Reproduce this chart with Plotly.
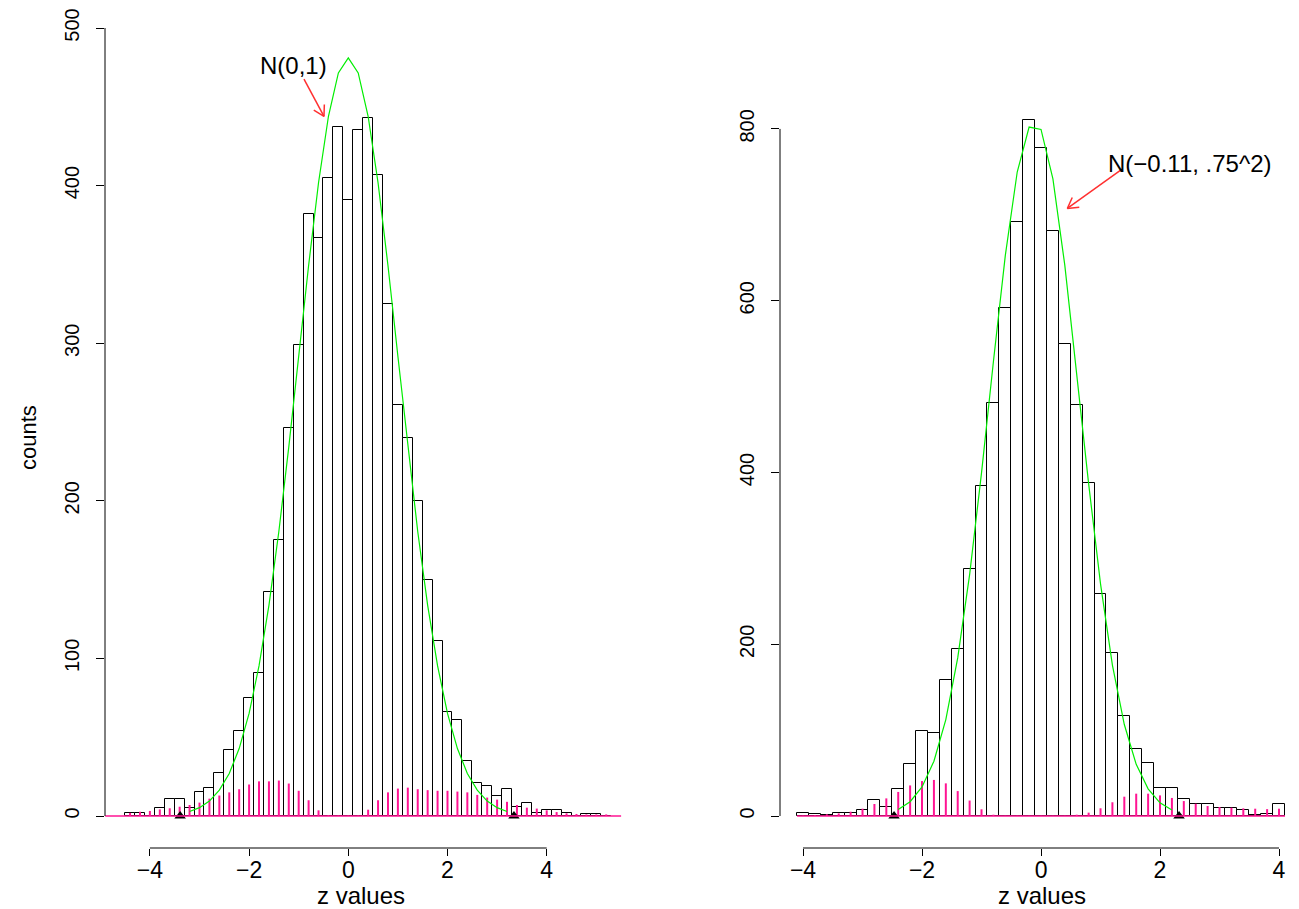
import math
import plotly.graph_objects as go

W, H = 1299, 909
FONT = "Liberation Sans, Arial, Helvetica, sans-serif"

# ---------------- data ----------------
bin_width = 0.2

left_centers = [-4.4, -4.2, -4.0, -3.8, -3.6, -3.4, -3.2, -3.0, -2.8, -2.6,
                -2.4, -2.2, -2.0, -1.8, -1.6, -1.4, -1.2, -1.0, -0.8, -0.6,
                -0.4, -0.2, 0.0, 0.2, 0.4, 0.6, 0.8, 1.0, 1.2, 1.4,
                1.6, 1.8, 2.0, 2.2, 2.4, 2.6, 2.8, 3.0, 3.2, 3.4,
                3.6, 3.8, 4.0, 4.2, 4.4, 4.6, 4.8, 5.0, 5.2]
left_counts = [2, 2, 0, 5, 11, 11, 5, 15, 18, 27,
               42, 54, 75, 91, 142, 175, 246, 299, 382, 367,
               405, 437, 391, 435, 443, 407, 325, 261, 240, 200,
               150, 111, 66, 61, 35, 21, 19, 13, 17, 6,
               8, 2, 4, 4, 2, 0, 1, 1, 0]
left_spikes = [2, 2.7, 3.2, 4.2, 4.9, 5.9, 7, 8.5, 11, 13,
               15, 17, 20, 22, 22, 22.5, 20.6, 16, 10, 3.6,
               0.5, 0.3, 0.3, 0.3, 4, 10, 15, 17.4, 18, 17,
               16.4, 16, 16, 15.5, 15, 13.4, 11.7, 10.4, 9, 7,
               5.3, 4.7, 3.6, 2.5, 1.7, 1.3, 1, 1, 1]
left_curve_x = [-3.2, -3.0, -2.8, -2.6, -2.4, -2.2, -2.0, -1.8, -1.6, -1.4, -1.2,
                -1.0, -0.8, -0.6, -0.4, -0.2, 0.0, 0.2, 0.4, 0.6, 0.8, 1.0,
                1.2, 1.4, 1.6, 1.8, 2.0, 2.2, 2.4, 2.6, 2.8, 3.0, 3.2]
left_curve_y = [2.9, 5.3, 9.5, 16.4, 27.0, 42.8, 65.1, 95.2, 133.7, 180.5, 234.1,
                291.7, 349.3, 401.8, 444.0, 471.5, 481.0, 471.5, 444.0, 401.8, 349.3, 291.7,
                234.1, 180.5, 133.7, 95.2, 65.1, 42.8, 27.0, 16.4, 9.5, 5.3, 2.9]
left_marks = [-3.39, 3.34]
left_baseline = [-4.9, 5.5]

right_centers = [-4.0, -3.8, -3.6, -3.4, -3.2, -3.0, -2.8, -2.6, -2.4, -2.2,
                 -2.0, -1.8, -1.6, -1.4, -1.2, -1.0, -0.8, -0.6, -0.4, -0.2,
                 0.0, 0.2, 0.4, 0.6, 0.8, 1.0, 1.2, 1.4, 1.6, 1.8,
                 2.0, 2.2, 2.4, 2.6, 2.8, 3.0, 3.2, 3.4, 3.6, 3.8, 4.0]
right_counts = [3, 2, 1, 4, 4, 7, 19, 10, 32, 61,
                99, 97, 158, 194, 288, 384, 481, 591, 692, 810,
                778, 681, 550, 479, 388, 259, 190, 117, 78, 62,
                33, 33, 20, 14, 14, 9, 9, 7, 1, 2, 14]
right_spikes = [0.4, 0.8, 2, 3, 5, 8.5, 14, 20.5, 28, 35.6,
                40.7, 42, 38, 29, 18, 7.8, 1.5, 0.3, 0.3, 0.3,
                0.3, 0.3, 0.3, 1.5, 3.9, 9, 16, 22.5, 26, 26,
                24, 21, 17.4, 14.3, 11.6, 10.5, 9.7, 8.9, 8.5, 8, 8.5]
right_curve_x = [-2.4, -2.2, -2.0, -1.8, -1.6, -1.4, -1.2, -1.0, -0.8, -0.6, -0.4, -0.2,
                 0.0, 0.2, 0.4, 0.6, 0.8, 1.0, 1.2, 1.4, 1.6, 1.8, 2.0, 2.2]
right_curve_y = [7.6, 16.6, 33.8, 63.8, 112.3, 184.1, 281.0, 399.6, 529.2, 652.7, 749.8, 802.2,
                 799.4, 741.8, 641.2, 516.2, 387.0, 270.3, 175.7, 106.5, 60.1, 31.6, 15.4, 7.0]
right_marks = [-2.47, 2.32]
right_baseline = [-4.1, 4.1]

x_ticks = [-4, -2, 0, 2, 4]
left_y_ticks = [0, 100, 200, 300, 400, 500]
right_y_ticks = [0, 200, 400, 600, 800]

left_label = "N(0,1)"
right_label = "N(\u22120.11, .75^2)"
x_title = "z values"
y_title = "counts"

# ---------------- layout geometry (pixels) ----------------
panels = {
    "L": dict(xa="x", ya="y", xdom=(105, 621), ydom=(5, 848),
              xr=(-4.905, 5.498), yr=(-20.3, 514.6)),
    "R": dict(xa="x2", ya="y2", xdom=(780, 1299), ydom=(5, 848),
              xr=(-4.387, 4.336), yr=(-37.26, 944.3)),
}


def px_x(p, v):
    a, b = p["xdom"]
    return a + (v - p["xr"][0]) / (p["xr"][1] - p["xr"][0]) * (b - a)


def px_y(p, v):
    top, bot = p["ydom"]
    return bot - (v - p["yr"][0]) / (p["yr"][1] - p["yr"][0]) * (bot - top)


def dom_x(p, px):
    a, b = p["xdom"]
    return (px - a) / (b - a)


def dom_y(p, py):
    top, bot = p["ydom"]
    return (bot - py) / (bot - top)


fig = go.Figure()
shapes = []
annotations = []

BLACK = "#000000"
PINK = "#FF1493"
GREEN = "#00EE00"
RED = "#FF3030"


def add_panel(p, centers, counts, spikes, cx, cy, marks, baseline, yticks):
    xa, ya = p["xa"], p["ya"]
    fig.add_trace(go.Bar(
        x=centers, y=counts, width=[bin_width] * len(centers),
        marker=dict(color="white", line=dict(color=BLACK, width=1)),
        xaxis=xa, yaxis=ya, showlegend=False, hoverinfo="skip"))
    sx, sy = [], []
    for c, h in zip(centers, spikes):
        sx += [c, c, None]
        sy += [0, h, None]
    fig.add_trace(go.Scatter(
        x=sx, y=sy, mode="lines", line=dict(color=PINK, width=2),
        xaxis=xa, yaxis=ya, showlegend=False, hoverinfo="skip"))
    fig.add_trace(go.Scatter(
        x=cx, y=cy, mode="lines", line=dict(color=GREEN, width=1.2),
        xaxis=xa, yaxis=ya, showlegend=False, hoverinfo="skip"))
    fig.add_trace(go.Scatter(
        x=marks, y=[0] * len(marks), mode="markers",
        marker=dict(symbol="triangle-up", size=10, color=BLACK),
        cliponaxis=False, xaxis=xa, yaxis=ya, showlegend=False, hoverinfo="skip"))

    xref = xa + " domain"
    yref = ya + " domain"
    shapes.append(dict(type="line", xref=xref, yref=yref,
                       x0=dom_x(p, px_x(p, baseline[0])), x1=dom_x(p, px_x(p, baseline[1])),
                       y0=dom_y(p, px_y(p, 0)), y1=dom_y(p, px_y(p, 0)),
                       line=dict(color=PINK, width=1.5), layer="above"))
    shapes.append(dict(type="line", xref=xref, yref=yref,
                       x0=dom_x(p, px_x(p, x_ticks[0])), x1=dom_x(p, px_x(p, x_ticks[-1])),
                       y0=0, y1=0, line=dict(color=BLACK, width=1)))
    shapes.append(dict(type="line", xref=xref, yref=yref,
                       x0=0, x1=0,
                       y0=dom_y(p, px_y(p, yticks[0])), y1=dom_y(p, px_y(p, yticks[-1])),
                       line=dict(color=BLACK, width=1)))


def add_arrow(p, tail, tip, head_len=12, ang=30):
    xref = p["xa"] + " domain"
    yref = p["ya"] + " domain"
    tx, ty = px_x(p, tail[0]), px_y(p, tail[1])
    hx, hy = px_x(p, tip[0]), px_y(p, tip[1])
    segs = [((tx, ty), (hx, hy))]
    base = math.atan2(ty - hy, tx - hx)
    for s in (-1, 1):
        a = base + s * math.radians(ang)
        segs.append(((hx, hy), (hx + head_len * math.cos(a), hy + head_len * math.sin(a))))
    for (x0, y0), (x1, y1) in segs:
        shapes.append(dict(type="line", xref=xref, yref=yref,
                           x0=dom_x(p, x0), y0=dom_y(p, y0),
                           x1=dom_x(p, x1), y1=dom_y(p, y1),
                           line=dict(color=RED, width=1.5)))


PL, PR = panels["L"], panels["R"]
add_panel(PL, left_centers, left_counts, left_spikes, left_curve_x, left_curve_y,
          left_marks, left_baseline, left_y_ticks)
add_panel(PR, right_centers, right_counts, right_spikes, right_curve_x, right_curve_y,
          right_marks, right_baseline, right_y_ticks)

add_arrow(PL, (-0.893, 467.5), (-0.49, 443.9))
add_arrow(PR, (1.339, 752.0), (0.442, 707.4))


def txt(text, x, y, xref, yref, size, angle=0):
    return dict(text=text, x=x, y=y, xref=xref, yref=yref, xanchor="center",
                yanchor="middle", textangle=angle, showarrow=False,
                font=dict(size=size, color=BLACK, family=FONT))


annotations.append(txt(left_label, -1.095, 475.9, "x", "y", 24))
annotations.append(txt(right_label, 2.504, 760.2, "x2", "y2", 24))
annotations.append(txt(x_title, 361 / W, 1 - 895 / H, "paper", "paper", 24))
annotations.append(txt(x_title, 1042 / W, 1 - 895 / H, "paper", "paper", 24))
annotations.append(txt(y_title, 28 / W, 1 - 438 / H, "paper", "paper", 22, -90))


def xaxis_cfg(p, anchor):
    return dict(domain=[p["xdom"][0] / W, p["xdom"][1] / W], range=list(p["xr"]),
                anchor=anchor, tickmode="array", tickvals=x_ticks,
                ticks="outside", ticklen=7, tickcolor=BLACK, tickwidth=1,
                showline=False, showgrid=False, zeroline=False,
                tickfont=dict(size=23, color=BLACK, family=FONT),
                ticklabelstandoff=-6)


def yaxis_cfg(p, anchor, ticks):
    return dict(domain=[1 - p["ydom"][1] / H, 1 - p["ydom"][0] / H], range=list(p["yr"]),
                anchor=anchor, tickmode="array", tickvals=ticks,
                ticks="outside", ticklen=8, tickcolor=BLACK, tickwidth=1,
                showline=False, showgrid=False, zeroline=False, tickangle=-90,
                tickfont=dict(size=20, color=BLACK, family=FONT),
                ticklabelstandoff=9)


fig.update_layout(
    width=W, height=H,
    margin=dict(l=0, r=0, t=0, b=0),
    paper_bgcolor="white", plot_bgcolor="white",
    bargap=0, barmode="overlay",
    xaxis=xaxis_cfg(PL, "y"), yaxis=yaxis_cfg(PL, "x", left_y_ticks),
    xaxis2=xaxis_cfg(PR, "y2"), yaxis2=yaxis_cfg(PR, "x2", right_y_ticks),
    shapes=shapes, annotations=annotations,
    font=dict(family=FONT, color=BLACK),
    showlegend=False,
)

fig.write_html("out.html",
               config={"displayModeBar": False},
               post_script="document.body.style.margin='0';document.body.style.overflow='hidden';")
